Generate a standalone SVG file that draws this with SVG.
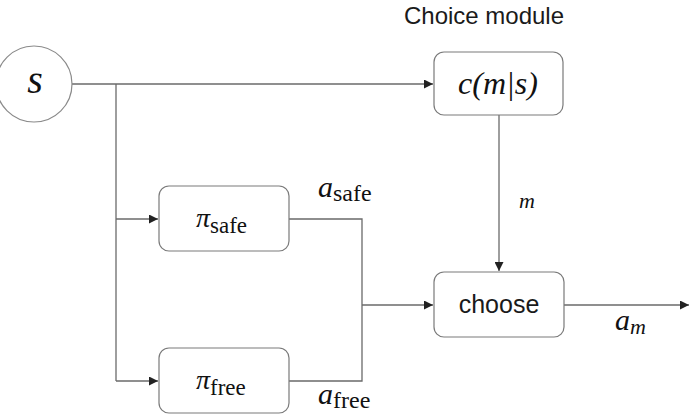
<svg xmlns="http://www.w3.org/2000/svg" width="696" height="420" viewBox="0 0 696 420">
  <defs>
    <style>
      .box { fill: #ffffff; stroke: #7a7a7a; stroke-width: 1.2; }
      .wire { fill: none; stroke: #6a6a6a; stroke-width: 1.3; }
      .sans { font-family: "Liberation Sans", Arial, sans-serif; fill: #1a1a1a; }
      .math { font-family: "Liberation Serif", "Times New Roman", serif; font-style: italic; fill: #111; }
      .sub { font-style: normal; }
    </style>
    <marker id="arrow" viewBox="0 0 10 10" refX="10" refY="5" markerWidth="9" markerHeight="9" markerUnits="userSpaceOnUse" orient="auto">
      <path d="M0,0 L10,5 L0,10 z" fill="#222"/>
    </marker>
  </defs>

  <rect width="696" height="420" fill="#ffffff"/>

  <!-- connectors and their labels -->
  <g id="connectors">
    <line class="wire" x1="72" y1="84" x2="433" y2="84" marker-end="url(#arrow)"/>
    <line class="wire" x1="116" y1="84" x2="116" y2="381"/>
    <line class="wire" x1="116" y1="219" x2="158" y2="219" marker-end="url(#arrow)"/>
    <line class="wire" x1="116" y1="381" x2="158" y2="381" marker-end="url(#arrow)"/>
    <polyline class="wire" points="289,219 362,219 362,381 289,381"/>
    <line class="wire" x1="362" y1="305" x2="433" y2="305" marker-end="url(#arrow)"/>
    <line class="wire" x1="499" y1="115" x2="499" y2="271" marker-end="url(#arrow)"/>
    <line class="wire" x1="564" y1="305" x2="689" y2="305" marker-end="url(#arrow)"/>
    <text class="math" x="527" y="208" font-size="22" text-anchor="middle">m</text>
    <text class="math" x="318" y="197" font-size="30">a<tspan class="sub" font-size="24" dy="4">safe</tspan></text>
    <text class="math" x="318" y="404" font-size="30">a<tspan class="sub" font-size="24" dy="4">free</tspan></text>
    <text class="math" x="615" y="330" font-size="30">a<tspan font-size="22" dy="4">m</tspan></text>
  </g>

  <!-- state node -->
  <g id="node-s">
    <circle cx="34" cy="84" r="38" fill="#ffffff" stroke="#8a8a8a" stroke-width="1.2"/>
    <text class="math" x="35" y="93" font-size="40" text-anchor="middle">s</text>
  </g>

  <!-- choice module -->
  <g id="node-choice">
    <text class="sans" x="484" y="24" font-size="24" text-anchor="middle">Choice module</text>
    <rect class="box" x="434" y="52" width="129" height="63" rx="10"/>
    <text class="math" x="498" y="94" font-size="32" text-anchor="middle">c(m|s)</text>
  </g>

  <!-- safe policy -->
  <g id="node-pi-safe">
    <rect class="box" x="159" y="186" width="130" height="65" rx="10"/>
    <text class="math" x="196" y="227" font-size="28">π<tspan class="sub" font-size="23" dy="6">safe</tspan></text>
  </g>

  <!-- free policy -->
  <g id="node-pi-free">
    <rect class="box" x="159" y="348" width="130" height="65" rx="10"/>
    <text class="math" x="196" y="389" font-size="28">π<tspan class="sub" font-size="23" dy="6">free</tspan></text>
  </g>

  <!-- selector -->
  <g id="node-choose">
    <rect class="box" x="434" y="272" width="130" height="65" rx="10"/>
    <text class="sans" x="499" y="313" font-size="25" text-anchor="middle">choose</text>
  </g>
</svg>
